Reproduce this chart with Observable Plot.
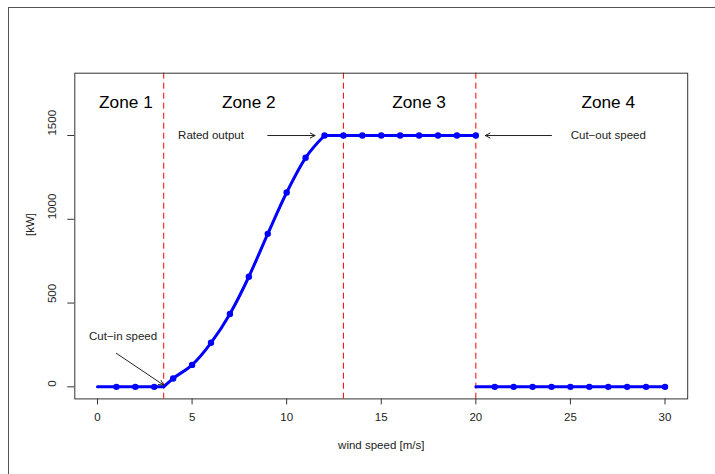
<!DOCTYPE html>
<html>
<head>
<meta charset="utf-8">
<script src="https://cdn.jsdelivr.net/npm/d3@7"></script>
<script src="https://cdn.jsdelivr.net/npm/@observablehq/plot@0.6"></script>
<style>
  html, body { margin: 0; padding: 0; background: #fff; overflow: hidden; }
  #wrap { position: relative; width: 715px; height: 474px; }
  #outer { position: absolute; left: 8px; top: 7px; width: 800px; height: 600px;
           border: 1px solid #555; box-sizing: border-box; pointer-events: none; z-index: 2; }
  #chart { position: absolute; left: 0; top: 0; }
</style>
</head>
<body>
<div id="wrap"><div id="chart"></div><div id="outer"></div></div>
<script>
// Power curve (zones 1-3): wind speed [m/s] and output [kW]
const curveSpeed = [0, 1, 2, 3, 3.5, 4, 5, 6, 7, 8, 9, 10, 11, 12, 13, 14, 15, 16, 17, 18, 19, 20];
const curvePower = [0, 0, 0, 0, 0, 50, 131, 263, 435, 657, 913, 1160, 1367, 1500, 1500, 1500, 1500, 1500, 1500, 1500, 1500, 1500];
// Zone 4 (after cut-out)
const cutoutSpeed = [20, 21, 22, 23, 24, 25, 26, 27, 28, 29, 30];
const cutoutPower = [0, 0, 0, 0, 0, 0, 0, 0, 0, 0, 0];
// Zone boundaries
const boundaries = [3.5, 13, 20];
// Zone labels
const zoneNames = ["Zone 1", "Zone 2", "Zone 3", "Zone 4"];
const zoneX = [1.5, 8, 17, 27];
const zoneY = 1700;
// Annotations
const noteText = ["Rated output", "Cut\u2212out speed", "Cut\u2212in speed"];
const noteX = [6, 27, 1.35];
const noteY = [1500, 1500, 300];
const arrowX1 = [9, 24, 1];
const arrowY1 = [1500, 1500, 200];
const arrowX2 = [11.5, 20.5, 3.5];
const arrowY2 = [1500, 1500, 10];
// Axis ticks
const xTicks = [0, 5, 10, 15, 20, 25, 30];
const yTicks = [0, 500, 1000, 1500];
const xTitle = "wind speed [m/s]";
const yTitle = "[kW]";

const curve = curveSpeed.map((s, i) => ({speed: s, power: curvePower[i]}));
const below = curve.filter(d => d.speed <= 3.5);
const rising = curve.filter(d => d.speed >= 3.5 && d.speed <= 12);
const rated = curve.filter(d => d.speed >= 12);
const curveDots = curve.filter(d => d.speed !== 0 && d.speed !== 3.5);
const cutout = cutoutSpeed.map((s, i) => ({speed: s, power: cutoutPower[i]}));
const cutoutDots = cutout.filter(d => d.speed !== 20);
const zones = zoneNames.map((n, i) => ({name: n, x: zoneX[i], y: zoneY}));
const notes = noteText.map((t, i) => ({text: t, x: noteX[i], y: noteY[i]}));
const arrows = arrowX1.map((x1, i) => ({x1, y1: arrowY1[i], x2: arrowX2[i], y2: arrowY2[i]}));

const font = "'Liberation Sans', Arial, Helvetica, sans-serif";
const blue = "#0000ff";
const lw = 3;

const chart = Plot.plot({
  width: 715,
  height: 474,
  marginLeft: 74.3,
  marginRight: 27.8,
  marginTop: 72.7,
  marginBottom: 75.6,
  style: {fontFamily: font, fontSize: "11.5px", color: "#222", background: "transparent"},
  x: {domain: [-1.2, 31.2], label: null},
  y: {domain: [-72, 1872], label: null},
  marks: [
    Plot.ruleX(boundaries, {stroke: "#ff0000", strokeWidth: 1, strokeDasharray: "6,4"}),
    Plot.line(below, {x: "speed", y: "power", stroke: blue, strokeWidth: lw}),
    Plot.line(rising, {x: "speed", y: "power", stroke: blue, strokeWidth: lw, curve: "monotone-x"}),
    Plot.line(rated, {x: "speed", y: "power", stroke: blue, strokeWidth: lw}),
    Plot.dot(curveDots, {x: "speed", y: "power", r: 3.2, fill: blue, stroke: null}),
    Plot.line(cutout, {x: "speed", y: "power", stroke: blue, strokeWidth: lw}),
    Plot.dot(cutoutDots, {x: "speed", y: "power", r: 3.2, fill: blue, stroke: null}),
    Plot.arrow(arrows, {x1: "x1", y1: "y1", x2: "x2", y2: "y2", stroke: "#222", strokeWidth: 1, headLength: 8, headAngle: 55}),
    Plot.text(zones, {x: "x", y: "y", text: "name", fontSize: 17.25, fill: "#000"}),
    Plot.text(notes, {x: "x", y: "y", text: "text", fontSize: 11.5, fill: "#222"}),
    Plot.frame({stroke: "#333", strokeWidth: 1}),
    Plot.axisX({ticks: xTicks, tickSize: 6, tickFormat: () => "", label: null, stroke: "#333"}),
    Plot.axisY({ticks: yTicks, tickSize: 7, tickFormat: () => "", label: null, stroke: "#333"}),
    Plot.text(xTicks, {x: d => d, text: d => String(d), frameAnchor: "bottom", dy: 21.6, fill: "#222"}),
    Plot.text(yTicks, {y: d => d, text: d => String(d), frameAnchor: "left", dx: -22.6, rotate: -90, fill: "#222"}),
    Plot.text([xTitle], {text: d => d, frameAnchor: "bottom", dy: 50, fill: "#222"}),
    Plot.text([yTitle], {text: d => d, frameAnchor: "left", dx: -44, rotate: -90, fill: "#222"})
  ]
});
document.getElementById("chart").appendChild(chart);
</script>
</body>
</html>
